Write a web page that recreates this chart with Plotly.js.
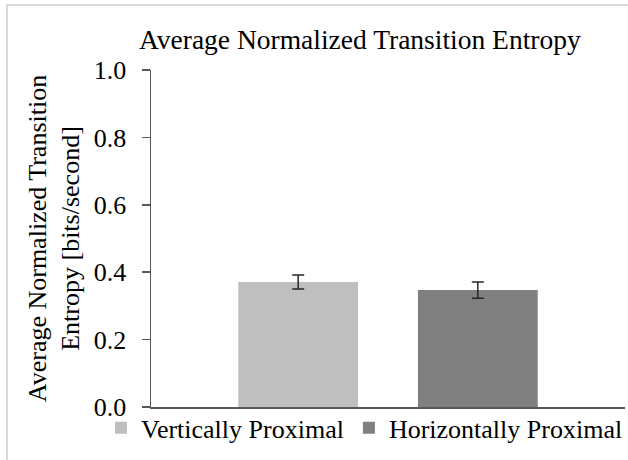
<!DOCTYPE html>
<html>
<head>
<meta charset="utf-8">
<script src="https://cdn.plot.ly/plotly-3.0.1.min.js"></script>
<style>
  html, body { margin: 0; padding: 0; background: #fff; }
  #wrap { position: relative; width: 628px; height: 460px; overflow: hidden; }
  #frame { position: absolute; left: 6px; top: 4px; width: 700px; height: 600px;
           border-left: 2px solid #d9d9d9; border-top: 2px solid #d9d9d9; box-sizing: border-box; pointer-events: none; }
  #chart { position: absolute; left: 0; top: 0; width: 628px; height: 460px; }
</style>
</head>
<body>
<div id="wrap">
  <div id="chart"></div>
  <div id="frame"></div>
</div>
<script>
const categories = [""];
const seriesNames = ["Vertically Proximal", "Horizontally Proximal"];
const seriesValues = [[0.371], [0.347]];
const seriesErrors = [[0.021], [0.024]];
const seriesColors = ["#bfbfbf", "#808080"];
const yTicks = [0, 0.2, 0.4, 0.6, 0.8, 1.0];
const yTickLabels = ["0.0", "0.2", "0.4", "0.6", "0.8", "1.0"];

const FONT = "'Liberation Serif', serif";

const traces = seriesNames.map((name, i) => ({
  type: "bar",
  name: name,
  x: categories,
  y: seriesValues[i],
  marker: { color: seriesColors[i], line: { width: 0 } },
  error_y: { type: "data", array: seriesErrors[i], visible: true, color: "#262626", thickness: 1.5, width: 6 },
  hoverinfo: "skip"
}));

const layout = {
  width: 628, height: 460,
  margin: { l: 151, r: 3, t: 70, b: 53, pad: 0 },
  paper_bgcolor: "rgba(0,0,0,0)",
  plot_bgcolor: "rgba(0,0,0,0)",
  font: { family: FONT, size: 26, color: "#000" },
  title: {
    text: "Average Normalized Transition Entropy",
    font: { family: FONT, size: 27.5, color: "#000" },
    xref: "container", x: 0.573, xanchor: "center",
    yref: "container", y: 1 - 39 / 460, yanchor: "middle"
  },
  barmode: "group",
  bargap: 0.242,
  bargroupgap: 0.3333,
  xaxis: {
    showline: true, linecolor: "#595959", linewidth: 1.5,
    showticklabels: false, ticks: "", showgrid: false, zeroline: false,
    fixedrange: true
  },
  yaxis: {
    range: [0, 1],
    tickvals: yTicks, ticktext: yTickLabels,
    showline: true, linecolor: "#595959", linewidth: 1.5,
    ticks: "outside", ticklen: 8, tickwidth: 1.5, tickcolor: "#595959",
    ticklabelstandoff: 10,
    showgrid: false, zeroline: false,
    tickfont: { family: FONT, size: 26, color: "#000" },
    title: {
      text: "Average Normalized Transition<br>Entropy [bits/second]",
      font: { family: FONT, size: 26, color: "#000" },
      standoff: 6
    },
    fixedrange: true
  },
  showlegend: true,
  legend: {
    orientation: "h",
    x: (112 - 151) / 474, xanchor: "left",
    y: -0.062, yanchor: "middle",
    font: { family: FONT, size: 26, color: "#000" },
    itemwidth: 30,
    tracegroupgap: 0,
    bgcolor: "rgba(0,0,0,0)"
  }
};

Plotly.newPlot("chart", traces, layout, { staticPlot: true, displayModeBar: false });
</script>
</body>
</html>
